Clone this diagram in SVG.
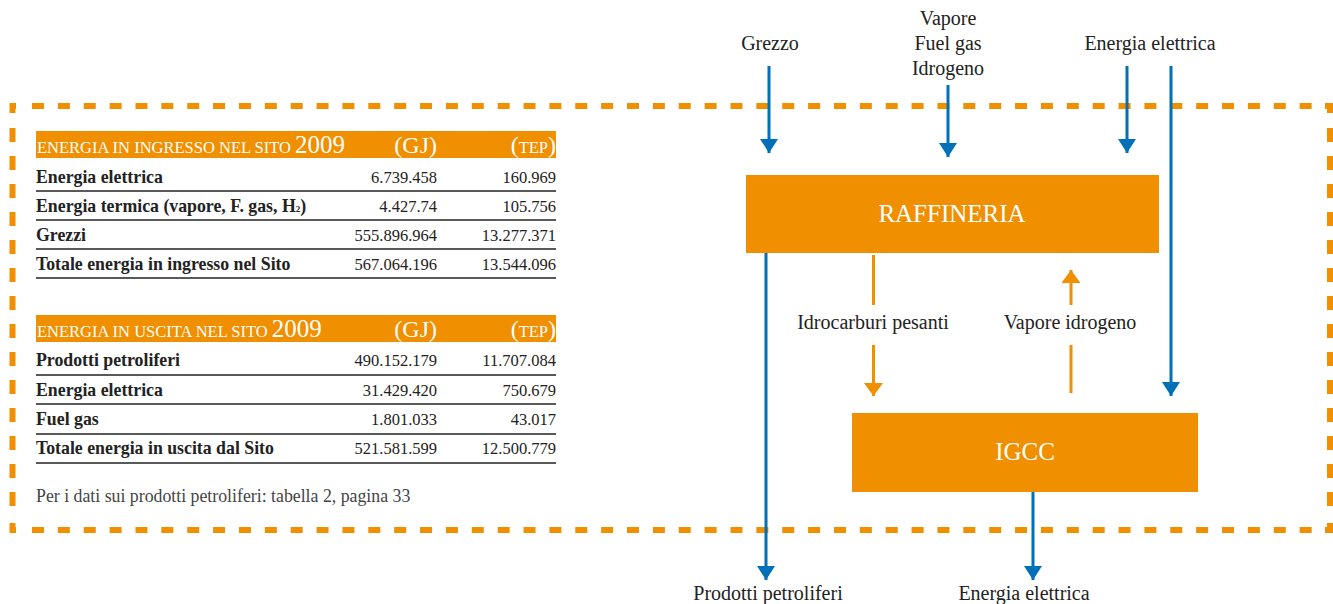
<svg xmlns="http://www.w3.org/2000/svg" width="1333" height="604" viewBox="0 0 1333 604">
<defs>
<style>
text{font-family:"Liberation Serif","DejaVu Serif","Times New Roman",serif}
.t{fill:#222}
.lbl{font-size:20px;text-anchor:middle}
.box{fill:#F08F00}
.boxt{font-size:25px;fill:#fff;text-anchor:middle}
.hd{fill:#fff}
.row{font-size:17.8px;font-weight:bold}
.num{font-size:16.5px;text-anchor:end}
.note{font-size:17.8px;fill:#444}
.rule{stroke:#222;stroke-width:1.5}
.blue{stroke:#0070B8;stroke-width:3;fill:none}
.or{stroke:#F08F00;stroke-width:3;fill:none}
.dh{stroke:#F08F00;stroke-width:6;fill:none;stroke-dasharray:12 13.87}
.dv{stroke:#F08F00;stroke-width:6;fill:none;stroke-dasharray:14 14}
.corner{stroke:#F08F00;stroke-width:6;fill:none}
</style>
<marker id="ab" markerUnits="userSpaceOnUse" markerWidth="16" markerHeight="20" refX="14" refY="9" orient="auto"><path d="M0,0 L14,9 L0,18 z" fill="#0070B8"/></marker>
<marker id="ao" markerUnits="userSpaceOnUse" markerWidth="16" markerHeight="20" refX="13" refY="9.5" orient="auto"><path d="M0,0 L13,9.5 L0,19 z" fill="#F08F00"/></marker>
</defs>
<rect width="1333" height="604" fill="#fff"/>

<g id="border">
<line class="dh" x1="32" y1="106" x2="1320" y2="106"/>
<line class="dh" x1="32" y1="530" x2="1320" y2="530"/>
<line class="dv" x1="12.5" y1="128" x2="12.5" y2="512"/>
<line class="dv" x1="1330" y1="128" x2="1330" y2="512"/>
<path class="corner" d="M12.5,113 V106 H16 M12.5,523 V530 H16 M1325,106 H1330 V113 M1325,530 H1330 V523"/>
</g>

<g id="table-in">
<rect class="box" x="36" y="131" width="520" height="27"/>
<text class="hd" x="37" y="153" font-size="16.5">ENERGIA IN INGRESSO NEL SITO <tspan font-size="25">2009</tspan></text>
<text class="hd" x="437" y="153" font-size="24" text-anchor="end">(GJ)</text>
<text class="hd" x="556" y="153" font-size="24" text-anchor="end">(<tspan font-size="16.5">TEP</tspan>)</text>
<text class="t row" x="36" y="183">Energia elettrica</text>
<text class="t num" x="437" y="183">6.739.458</text>
<text class="t num" x="556" y="183">160.969</text>
<line class="rule" x1="36" y1="191" x2="556" y2="191"/>
<text class="t row" x="36" y="212">Energia termica (vapore, F. gas, H<tspan font-size="9">2</tspan>)</text>
<text class="t num" x="437" y="212">4.427.74</text>
<text class="t num" x="556" y="212">105.756</text>
<line class="rule" x1="36" y1="220" x2="556" y2="220"/>
<text class="t row" x="36" y="241">Grezzi</text>
<text class="t num" x="437" y="241">555.896.964</text>
<text class="t num" x="556" y="241">13.277.371</text>
<line class="rule" x1="36" y1="249" x2="556" y2="249"/>
<text class="t row" x="36" y="270">Totale energia in ingresso nel Sito</text>
<text class="t num" x="437" y="270">567.064.196</text>
<text class="t num" x="556" y="270">13.544.096</text>
<line class="rule" x1="36" y1="278" x2="556" y2="278"/>
</g>

<g id="table-out">
<rect class="box" x="36" y="315" width="520" height="27"/>
<text class="hd" x="37" y="337" font-size="16.5">ENERGIA IN USCITA NEL SITO <tspan font-size="25">2009</tspan></text>
<text class="hd" x="437" y="337" font-size="24" text-anchor="end">(GJ)</text>
<text class="hd" x="556" y="337" font-size="24" text-anchor="end">(<tspan font-size="16.5">TEP</tspan>)</text>
<text class="t row" x="36" y="366">Prodotti petroliferi</text>
<text class="t num" x="437" y="366">490.152.179</text>
<text class="t num" x="556" y="366">11.707.084</text>
<line class="rule" x1="36" y1="375" x2="556" y2="375"/>
<text class="t row" x="36" y="396">Energia elettrica</text>
<text class="t num" x="437" y="396">31.429.420</text>
<text class="t num" x="556" y="396">750.679</text>
<line class="rule" x1="36" y1="404" x2="556" y2="404"/>
<text class="t row" x="36" y="425">Fuel gas</text>
<text class="t num" x="437" y="425">1.801.033</text>
<text class="t num" x="556" y="425">43.017</text>
<line class="rule" x1="36" y1="434" x2="556" y2="434"/>
<text class="t row" x="36" y="454">Totale energia in uscita dal Sito</text>
<text class="t num" x="437" y="454">521.581.599</text>
<text class="t num" x="556" y="454">12.500.779</text>
<line class="rule" x1="36" y1="463" x2="556" y2="463"/>
<text class="note" x="36" y="502">Per i dati sui prodotti petroliferi: tabella 2, pagina 33</text>
</g>

<g id="raffineria">
<rect class="box" x="746" y="175" width="413" height="78"/>
<text class="boxt" x="952" y="222">RAFFINERIA</text>
</g>

<g id="igcc">
<rect class="box" x="852" y="413" width="346" height="79"/>
<text class="boxt" x="1025" y="460">IGCC</text>
</g>

<g id="connectors">
<line class="blue" x1="769" y1="66" x2="769" y2="153" marker-end="url(#ab)"/>
<line class="blue" x1="948" y1="85" x2="948" y2="157" marker-end="url(#ab)"/>
<line class="blue" x1="1127" y1="66" x2="1127" y2="153" marker-end="url(#ab)"/>
<line class="blue" x1="1171" y1="66" x2="1171" y2="396" marker-end="url(#ab)"/>
<line class="blue" x1="766" y1="253" x2="766" y2="580" marker-end="url(#ab)"/>
<line class="blue" x1="1033" y1="492" x2="1033" y2="580" marker-end="url(#ab)"/>
<line class="or" x1="873.5" y1="255" x2="873.5" y2="305"/>
<line class="or" x1="873.5" y1="345" x2="873.5" y2="396" marker-end="url(#ao)"/>
<line class="or" x1="1071" y1="393" x2="1071" y2="345"/>
<line class="or" x1="1071" y1="305" x2="1071" y2="270" marker-end="url(#ao)"/>
</g>

<g id="labels">
<text class="t lbl" x="770" y="50">Grezzo</text>
<text class="t lbl" x="948" y="25">Vapore</text>
<text class="t lbl" x="948" y="50">Fuel gas</text>
<text class="t lbl" x="948" y="75">Idrogeno</text>
<text class="t lbl" x="1150" y="50">Energia elettrica</text>
<text class="t lbl" x="873" y="329">Idrocarburi pesanti</text>
<text class="t lbl" x="1070" y="329">Vapore idrogeno</text>
<text class="t lbl" x="768" y="600">Prodotti petroliferi</text>
<text class="t lbl" x="1024" y="600">Energia elettrica</text>
</g>
</svg>
